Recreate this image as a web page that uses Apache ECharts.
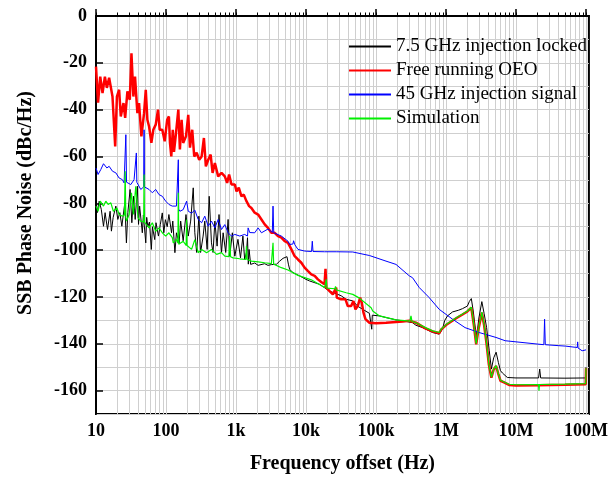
<!DOCTYPE html>
<html>
<head>
<meta charset="utf-8">
<script src="https://cdn.jsdelivr.net/npm/echarts@6/dist/echarts.min.js"></script>
<style>
html,body{margin:0;padding:0;background:#fff;}
#chart{width:611px;height:479px;}
</style>
</head>
<body>
<div id="chart"></div>
<script>
// ---- Tick labels ----
const xTickValues = [10, 100, 1e3, 1e4, 1e5, 1e6, 1e7, 1e8];
const xTickLabels = ['10', '100', '1k', '10k', '100k', '1M', '10M', '100M'];
const yTickValues = [-160, -140, -120, -100, -80, -60, -40, -20, 0];
const seriesNames = ['7.5 GHz injection locked', 'Free running OEO', '45 GHz injection signal', 'Simulation'];

// ---- Series data: [frequency offset (Hz), SSB phase noise (dBc/Hz)] ----
const lockedData = [
[10,-78.4],[10.4,-84],[11.1,-79.1],[11.9,-82.6],[12.8,-89.8],[13.5,-84],[14.6,-91.2],[15.9,-83.4],[16.6,-91.9],[17.6,-86],
[19.2,-81.2],[20.5,-86.9],[21.9,-84],[23.4,-89.8],[25.8,-79.8],[27.2,-96.9],[28.5,-84],[30.7,-74.1],[32.5,-88.3],[34.4,-77],
[36.3,-86.9],[39,-72.7],[40.5,-89],[42,-81.2],[45.9,-92.6],[47.5,-85],[51.4,-96.9],[53,-86],[55,-90],[58,-88],
[61.8,-99.7],[64,-90],[69,-95.5],[72,-88.3],[78,-94],[83,-89],[88.5,-84.1],[93,-92.6],[98,-87],[104,-90],
[110,-84.8],[114,-85.5],[120,-92.6],[125,-87.6],[134,-101.1],[141,-92.6],[154,-96.9],[162,-87.6],[176,-96],[193,-84.8],
[208,-94],[225,-87.6],[245,-73.4],[258,-92.6],[274,-101],[295,-85.5],[312,-101],[339,-94],[358,-87.6],[387,-99.7],
[414,-77],[446,-96.9],[470,-101],[499,-87.6],[537,-98.3],[572,-84.8],[621,-101],[655,-92.6],[713,-101],[771,-86.9],
[813,-102.6],[887,-92.6],[962,-102.6],[1066,-95.4],[1159,-103.3],[1255,-94],[1330,-104],[1411,-101],[1460,-94.7],[1500,-106],
[1538,-99.7],[1620,-106.1],[1850,-105.5],[2070,-106.5],[2570,-105.8],[2860,-106.5],[3200,-106.2],[3800,-106],[4210,-104.7],[4700,-103.5],
[5350,-102.8],[5600,-106],[5840,-108.2],[6500,-109.6],[8110,-111],[10000,-112.5],[11300,-113.2],[15600,-114.6],[21700,-117.5],[31800,-119.5],
[37500,-121],[46600,-121.7],[55000,-124],[64700,-125.3],[80500,-127],[85200,-127.4],[86900,-133.8],[88500,-127.8],[112000,-128.1],[139000,-128.8],
[193000,-129.8],[240000,-130.2],[333000,-131],[372000,-132.1],[463000,-133.1],[643000,-135.2],[800000,-135.9],[890000,-133.8],[960000,-130],[1050000,-128.1],
[1240000,-126.4],[1500000,-125.7],[1720000,-125],[2020000,-123.9],[2150000,-122],[2300000,-120.7],[2450000,-126],[2600000,-132.4],[2750000,-136.6],[2950000,-129],
[3250000,-122],[3500000,-127],[3800000,-133],[4150000,-143],[4450000,-150.8],[4800000,-146],[5200000,-143.6],[5600000,-148],[6000000,-151.5],[6400000,-152.5],
[7520000,-154.4],[10000000,-154.6],[21000000,-154.6],[21800000,-150.8],[22500000,-154.6],[50000000,-154.7],[99000000,-154.6],[100000000,-150]
];

const freeData = [
[10,-21.6],[10.7,-37],[11.5,-25.9],[12.4,-32.9],[13.4,-25.9],[14.3,-30.7],[15.4,-26.4],[17.2,-34.4],[18.8,-55.7],[19.9,-34.4],
[21.4,-31.5],[22.6,-42.9],[24.7,-37.2],[26.1,-43.5],[28.1,-32.2],[30.4,-35.8],[32.1,-15.9],[34.2,-34.4],[36.1,-25.9],[39,-41.5],
[41.2,-37.2],[44.5,-51.4],[48.6,-41.5],[51.4,-31.5],[54.2,-44.3],[57.3,-47.2],[61.8,-54.2],[65.9,-48.6],[71.3,-46.4],[76.9,-40],
[81.3,-48.6],[88.5,-48.6],[95.8,-53.5],[104,-44.3],[110,-42.9],[114,-54.2],[119,-60],[125,-48.6],[130,-58],[139,-50],
[150,-40],[158,-57],[167,-44.3],[176,-54.2],[193,-51.4],[208,-42.2],[220,-56.2],[237,-48.6],[253,-60],[274,-58.4],
[298,-61.4],[323,-60],[348,-52.1],[371,-64.2],[401,-61.4],[434,-59.2],[463,-67],[499,-62.8],[556,-68.5],[621,-67],
[692,-68.5],[747,-71.3],[797,-67.7],[863,-72],[962,-72],[1017,-74.9],[1096,-73.3],[1197,-77],[1291,-76.3],[1411,-79.1],
[1538,-81.2],[1660,-82],[1850,-84],[2070,-84.8],[2310,-86.9],[2570,-89],[2860,-90.5],[3200,-92.6],[3570,-92.6],[3980,-94],
[4450,-94.7],[4960,-96.2],[5530,-96.9],[6180,-99.7],[6890,-102.6],[7680,-104],[8580,-105.4],[9550,-107.5],[10600,-108.9],[11900,-110.4],
[13300,-111],[14800,-112.5],[16500,-113.6],[18400,-114.6],[19000,-108],[19500,-116],[21700,-117.5],[24200,-118.9],[27000,-116],[27500,-120.3],
[31800,-121],[36700,-121],[39500,-123.9],[44200,-123.9],[47600,-121.7],[50900,-125.3],[54900,-123.9],[59400,-120.3],[62600,-122.4],[66200,-126.7],
[70700,-129.5],[80500,-131],[100000,-131.2],[139000,-131],[193000,-130.7],[240000,-130.5],[299000,-130.2],[372000,-131],[500000,-133.3],[643000,-134.7],
[800000,-135.5],[850000,-134],[1000000,-132],[1380000,-129.2],[1720000,-127.5],[2020000,-126.2],[2300000,-124.6],[2500000,-132],[2700000,-140.2],[2900000,-134],
[3250000,-126.7],[3500000,-132],[3800000,-140],[4100000,-149],[4450000,-154.5],[4800000,-151],[5200000,-149.5],[5600000,-153],[6000000,-155.8],[6750000,-156.5],
[7950000,-157.6],[10000000,-157.8],[21000000,-157.7],[50000000,-157.5],[99000000,-157.3],[100000000,-150.5]
];

const injectionData = [
[10,-64.9],[10.7,-67.7],[11.7,-65.6],[12.8,-63.1],[14.3,-64.9],[15.4,-64.2],[17.2,-66.3],[19.2,-67],[21.4,-69.2],[23.8,-69.9],
[25.2,-71.3],[26.2,-70.5],[26.7,-50.7],[27.3,-71],[28.1,-71.3],[31.4,-72],[35,-69.9],[37.2,-70.5],[37.7,-58.5],[38.3,-71],
[40.3,-71.3],[43.6,-74.1],[48,-73],[48.6,-48.6],[49.3,-73],[51.4,-72.7],[57.3,-74.1],[63.8,-75.5],[71.3,-74.1],[79.5,-76.3],
[88.5,-77],[99,-79.1],[110,-80.5],[123,-81.2],[127,-81.9],[141,-81.2],[148,-82],[150,-61.4],[152,-82.5],[158,-83.4],
[176,-82.7],[197,-79.1],[208,-83.4],[232,-84.2],[258,-82.9],[288,-86.9],[323,-88.3],[358,-85.5],[401,-89.8],[446,-87.6],
[499,-90.5],[556,-86.9],[621,-91.2],[692,-89.1],[771,-92.6],[863,-94],[962,-93.3],[1133,-94],[1330,-93.3],[1460,-94],
[1490,-90.5],[1570,-92.5],[1850,-92.6],[2070,-90.5],[2310,-92.6],[2860,-91],[3300,-92.4],[3380,-81.2],[3460,-92.6],[4450,-94],
[5530,-96.2],[5840,-97.6],[6500,-97.4],[6650,-96],[6890,-97.6],[7680,-99.7],[9550,-100.4],[12000,-100.6],[12300,-96.2],[12600,-100.6],
[18400,-100.7],[27000,-100.7],[46600,-100.8],[80500,-102.3],[139000,-104.7],[193000,-106.1],[299000,-111],[333000,-111.8],[415000,-116],[576000,-120.3],
[800000,-125.3],[1240000,-129.5],[1870000,-133.1],[2970000,-135.2],[5180000,-137.3],[7000000,-138.7],[21300000,-140.2],[25000000,-140.4],[25600000,-129.5],[26200000,-140.4],
[40000000,-140.8],[51000000,-141],[70000000,-141.5],[75000000,-141.6],[76000000,-139.2],[77000000,-141.8],[88000000,-143],[100000000,-142.6]
];

const simulationData = [
[10,-81.2],[10.7,-83.4],[11.5,-79.1],[12.8,-81.2],[13.8,-79.1],[14.9,-80.5],[16.3,-79.8],[17.7,-83.4],[19.9,-82],[21.4,-84.8],
[23.8,-85.5],[25.5,-85],[26.1,-66.3],[26.7,-86],[27.2,-87.6],[29.7,-84.8],[32.1,-75.5],[34.2,-84.8],[37,-72.7],[39.9,-86.2],
[43.6,-87.6],[48,-88],[48.6,-67.7],[49.3,-88],[52.2,-89],[57.3,-90.5],[63.8,-88.3],[71.3,-92],[79.5,-90.5],[88.5,-92.6],
[99,-94],[110,-92.6],[123,-94.7],[127,-96.9],[141,-95.5],[148,-97],[150,-75.5],[152,-97.5],[158,-98.3],[176,-96.2],
[194,-98],[197,-86.9],[200,-98],[208,-98.3],[232,-99.7],[258,-95.5],[288,-101.1],[323,-99.7],[380,-101.1],[446,-99.7],
[528,-101.8],[621,-101.1],[692,-102.6],[790,-102.8],[813,-94],[836,-102.8],[908,-103.3],[1133,-103.7],[1380,-104],[1411,-98.3],
[1440,-104],[1660,-104.7],[2070,-105],[2570,-105.4],[3200,-105.8],[3330,-105.8],[3380,-96.9],[3450,-106],[4450,-107.5],[5530,-108.5],
[7680,-110.8],[11900,-112.7],[18400,-116],[19300,-116],[19500,-112.5],[19800,-116.2],[26000,-116.5],[26400,-115.5],[27000,-117],[37500,-118.2],
[46600,-118.9],[58000,-120.5],[61400,-120.3],[85200,-124.6],[89800,-126],[112000,-128.1],[193000,-129.8],[280000,-130.2],[305000,-130.3],[316000,-128.1],
[327000,-130.5],[372000,-131],[500000,-133],[643000,-134.5],[800000,-135.2],[850000,-133.8],[1000000,-131.8],[1380000,-129],[1720000,-127.3],[2020000,-126],
[2300000,-124.4],[2500000,-131.8],[2700000,-140],[2900000,-133.8],[3250000,-126.5],[3500000,-131.8],[3800000,-139.8],[4100000,-148.8],[4450000,-154.3],[4800000,-150.8],
[5200000,-149.3],[5600000,-152.8],[6000000,-155.6],[6750000,-156.3],[7950000,-157.3],[10000000,-157.5],[21000000,-157.4],[21300000,-160],[21600000,-157.4],[50000000,-157.2],
[99000000,-157],[100000000,-150.5]
];

// minor tick / grid positions (1..9 per decade)
const xMinorValues = [];
for (let d = 10; d < 1e8; d *= 10) {
  for (let k = 1; k <= 9; k++) xMinorValues.push(d * k);
}
xMinorValues.push(1e8);

const FONT = 'Liberation Serif';
const chart = echarts.init(document.getElementById('chart'), null, { renderer: 'canvas' });

const option = {
  animation: false,
  backgroundColor: '#ffffff',
  grid: {
    left: 96, right: 20, top: 16, bottom: 64,
    show: true, borderColor: '#000', borderWidth: 2, backgroundColor: 'transparent'
  },
  legend: {
    show: true,
    orient: 'vertical',
    left: 343, top: 32,
    itemWidth: 42, itemHeight: 14, itemGap: 5,
    itemStyle: { opacity: 0 },
    data: seriesNames,
    textStyle: { fontFamily: FONT, fontSize: 19, color: '#000' },
    selectedMode: false
  },
  xAxis: [
    {
      type: 'log', logBase: 10, min: 10, max: 1.1e8, position: 'bottom', gridIndex: 0,
      axisLine: { show: true, lineStyle: { color: '#000', width: 2 } },
      axisTick: { show: true, inside: true, length: 7, customValues: xTickValues, lineStyle: { color: '#000', width: 1.5 } },
      axisLabel: {
        show: true, customValues: xTickValues, margin: 8,
        fontFamily: FONT, fontSize: 18, fontWeight: 'bold', color: '#000',
        formatter: function (v) { return xTickLabels[Math.round(Math.log10(v)) - 1]; }
      },
      splitLine: { show: false },
      name: 'Frequency offset (Hz)', nameLocation: 'middle', nameGap: 40,
      nameTextStyle: { fontFamily: FONT, fontSize: 20, fontWeight: 'bold', color: '#000' }
    },
    {
      type: 'log', logBase: 10, min: 10, max: 1.1e8, position: 'bottom', gridIndex: 0,
      axisLine: { show: false },
      axisTick: { show: true, inside: true, length: 3.5, customValues: xMinorValues, lineStyle: { color: '#000', width: 1 } },
      axisLabel: { show: false },
      splitLine: { show: true, lineStyle: { color: '#cfcfcf', width: 1 } }
    }
  ],
  yAxis: [
    {
      type: 'value', min: -170, max: 0, interval: 10, position: 'left', gridIndex: 0,
      axisLine: { show: false }, axisTick: { show: false }, axisLabel: { show: false },
      splitLine: { show: true, lineStyle: { color: '#cfcfcf', width: 1 } }
    },
    {
      type: 'value', min: -170, max: 0, interval: 10, position: 'left', gridIndex: 0,
      axisLine: { show: true, lineStyle: { color: '#000', width: 2 } },
      axisTick: { show: true, inside: true, length: 7, customValues: yTickValues, lineStyle: { color: '#000', width: 1.5 } },
      axisLabel: { show: true, customValues: yTickValues, margin: 9, fontFamily: FONT, fontSize: 18, fontWeight: 'bold', color: '#000' },
      splitLine: { show: false },
      name: 'SSB Phase Noise (dBc/Hz)', nameLocation: 'middle', nameGap: 60,
      nameTextStyle: { fontFamily: FONT, fontSize: 20, fontWeight: 'bold', color: '#000', padding: [0, 0, 0, 24] }
    }
  ],
  series: [
    { name: seriesNames[0], type: 'line', xAxisIndex: 0, yAxisIndex: 1, data: lockedData, symbol: 'none', showSymbol: false,
      lineStyle: { color: '#000000', width: 1 }, itemStyle: { color: '#000000' } },
    { name: seriesNames[1], type: 'line', xAxisIndex: 0, yAxisIndex: 1, data: freeData, symbol: 'none', showSymbol: false,
      lineStyle: { color: '#ff0000', width: 2.5 }, itemStyle: { color: '#ff0000' } },
    { name: seriesNames[2], type: 'line', xAxisIndex: 0, yAxisIndex: 1, data: injectionData, symbol: 'none', showSymbol: false,
      lineStyle: { color: '#0000ff', width: 1 }, itemStyle: { color: '#0000ff' } },
    { name: seriesNames[3], type: 'line', xAxisIndex: 0, yAxisIndex: 1, data: simulationData, symbol: 'none', showSymbol: false,
      lineStyle: { color: '#00f000', width: 1.2 }, itemStyle: { color: '#00f000' } }
  ]
};
chart.setOption(option);
</script>
</body>
</html>
